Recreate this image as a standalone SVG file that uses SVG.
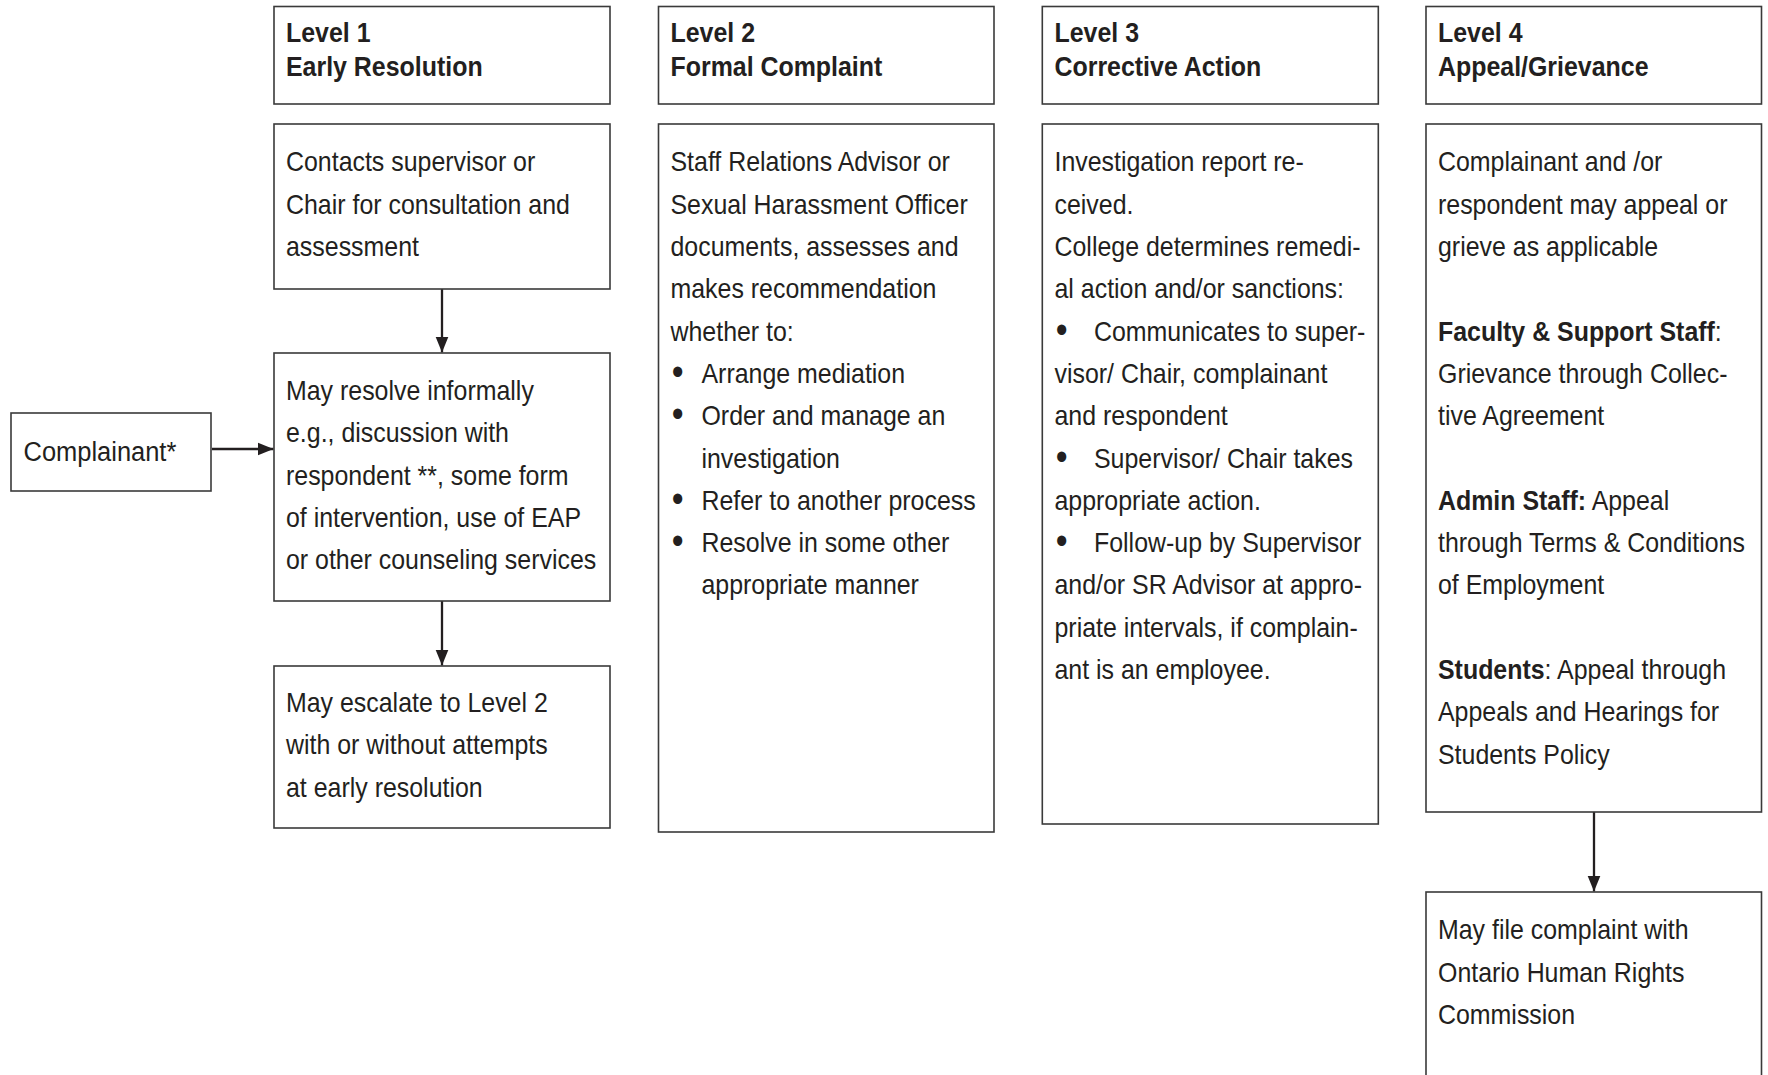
<svg xmlns="http://www.w3.org/2000/svg" width="1768" height="1075" viewBox="0 0 1768 1075">
<defs>
<style>
.box{fill:#fff;stroke:#3a3a3a;stroke-width:1.6}
text{font-family:"Liberation Sans",Arial,sans-serif;font-size:28px;fill:#231f20}
.b{font-weight:bold}
.bl{text-anchor:middle;font-size:38px}
.conn{stroke:#231f20;stroke-width:2.3;fill:none}
</style>
<marker id="ah" markerUnits="userSpaceOnUse" markerWidth="17" markerHeight="14" refX="16" refY="7" orient="auto">
<path d="M0,0.5 L16,7 L0,13.5 z" fill="#231f20"/>
</marker>
</defs>
<rect width="1768" height="1075" fill="#fff"/>

<g id="connectors">
<line class="conn" x1="442" y1="289" x2="442" y2="352.5" marker-end="url(#ah)"/>
<line class="conn" x1="442" y1="601" x2="442" y2="665.5" marker-end="url(#ah)"/>
<line class="conn" x1="212" y1="449" x2="273.5" y2="449" marker-end="url(#ah)"/>
<line class="conn" x1="1594" y1="812" x2="1594" y2="891.5" marker-end="url(#ah)"/>
</g>

<g id="complainant">
<rect class="box" x="11" y="413" width="200" height="78"/>
<g transform="matrix(0.91 0 0 1 23.5 0)"><text y="461">Complainant*</text></g>
</g>

<g id="level1-header">
<rect class="box" x="274" y="6.5" width="336" height="97.5"/>
<g transform="matrix(0.89 0 0 1 286 0)">
<text class="b" y="42.5">Level 1</text>
<text class="b" y="76.5">Early Resolution</text>
</g>
</g>
<g id="level1-contact">
<rect class="box" x="274" y="124" width="336" height="165"/>
<g transform="matrix(0.89 0 0 1 286 0)">
<text y="171.5">Contacts supervisor or</text>
<text y="213.8">Chair for consultation and</text>
<text y="256.1">assessment</text>
</g>
</g>
<g id="level1-resolve">
<rect class="box" x="274" y="353" width="336" height="248"/>
<g transform="matrix(0.89 0 0 1 286 0)">
<text y="400">May resolve informally</text>
<text y="442.3">e.g., discussion with</text>
<text y="484.6">respondent **, some form</text>
<text y="526.9">of intervention, use of EAP</text>
<text y="569.2">or other counseling services</text>
</g>
</g>
<g id="level1-escalate">
<rect class="box" x="274" y="666" width="336" height="162"/>
<g transform="matrix(0.89 0 0 1 286 0)">
<text y="712">May escalate to Level 2</text>
<text y="754.3">with or without attempts</text>
<text y="796.6">at early resolution</text>
</g>
</g>

<g id="level2-header">
<rect class="box" x="658.5" y="6.5" width="335.5" height="97.5"/>
<g transform="matrix(0.89 0 0 1 670.5 0)">
<text class="b" y="42.5">Level 2</text>
<text class="b" y="76.5">Formal Complaint</text>
</g>
</g>
<g id="level2-body">
<rect class="box" x="658.5" y="124" width="335.5" height="708"/>
<g transform="matrix(0.89 0 0 1 670.5 0)">
<text y="171.5">Staff Relations Advisor or</text>
<text y="213.8">Sexual Harassment Officer</text>
<text y="256.1">documents, assesses and</text>
<text y="298.4">makes recommendation</text>
<text y="340.7">whether to:</text>
<text class="bl" x="8.1" y="385">•</text><text x="34.8" y="383">Arrange mediation</text>
<text class="bl" x="8.1" y="427.3">•</text><text x="34.8" y="425.3">Order and manage an</text>
<text x="34.8" y="467.6">investigation</text>
<text class="bl" x="8.1" y="511.9">•</text><text x="34.8" y="509.9">Refer to another process</text>
<text class="bl" x="8.1" y="554.2">•</text><text x="34.8" y="552.2">Resolve in some other</text>
<text x="34.8" y="594.5">appropriate manner</text>
</g>
</g>

<g id="level3-header">
<rect class="box" x="1042.3" y="6.5" width="336" height="97.5"/>
<g transform="matrix(0.89 0 0 1 1054.5 0)">
<text class="b" y="42.5">Level 3</text>
<text class="b" y="76.5">Corrective Action</text>
</g>
</g>
<g id="level3-body">
<rect class="box" x="1042.3" y="124" width="336" height="700"/>
<g transform="matrix(0.89 0 0 1 1054.5 0)">
<text y="171.5">Investigation report re-</text>
<text y="213.8">ceived.</text>
<text y="256.1">College determines remedi-</text>
<text y="298.4">al action and/or sanctions:</text>
<text class="bl" x="8.1" y="342.7">•</text><text x="44.4" y="340.7">Communicates to super-</text>
<text y="383">visor/ Chair, complainant</text>
<text y="425.3">and respondent</text>
<text class="bl" x="8.1" y="469.6">•</text><text x="44.4" y="467.6">Supervisor/ Chair takes</text>
<text y="509.9">appropriate action.</text>
<text class="bl" x="8.1" y="554.2">•</text><text x="44.4" y="552.2">Follow-up by Supervisor</text>
<text y="594.5">and/or SR Advisor at appro-</text>
<text y="636.8">priate intervals, if complain-</text>
<text y="679.1">ant is an employee.</text>
</g>
</g>

<g id="level4-header">
<rect class="box" x="1426" y="6.5" width="335.5" height="97.5"/>
<g transform="matrix(0.89 0 0 1 1438 0)">
<text class="b" y="42.5">Level 4</text>
<text class="b" y="76.5">Appeal/Grievance</text>
</g>
</g>
<g id="level4-body">
<rect class="box" x="1426" y="124" width="335.5" height="688"/>
<g transform="matrix(0.89 0 0 1 1438 0)">
<text y="171.5">Complainant and /or</text>
<text y="213.8">respondent may appeal or</text>
<text y="256.1">grieve as applicable</text>
<text y="340.7"><tspan class="b">Faculty &amp; Support Staff</tspan>:</text>
<text y="383">Grievance through Collec-</text>
<text y="425.3">tive Agreement</text>
<text y="509.9"><tspan class="b">Admin Staff:</tspan> Appeal</text>
<text y="552.2">through Terms &amp; Conditions</text>
<text y="594.5">of Employment</text>
<text y="679.1"><tspan class="b">Students</tspan>: Appeal through</text>
<text y="721.4">Appeals and Hearings for</text>
<text y="763.7">Students Policy</text>
</g>
</g>
<g id="level4-ohrc">
<rect class="box" x="1426" y="892" width="335.5" height="200"/>
<g transform="matrix(0.89 0 0 1 1438 0)">
<text y="939.5">May file complaint with</text>
<text y="981.8">Ontario Human Rights</text>
<text y="1024.1">Commission</text>
</g>
</g>
</svg>
